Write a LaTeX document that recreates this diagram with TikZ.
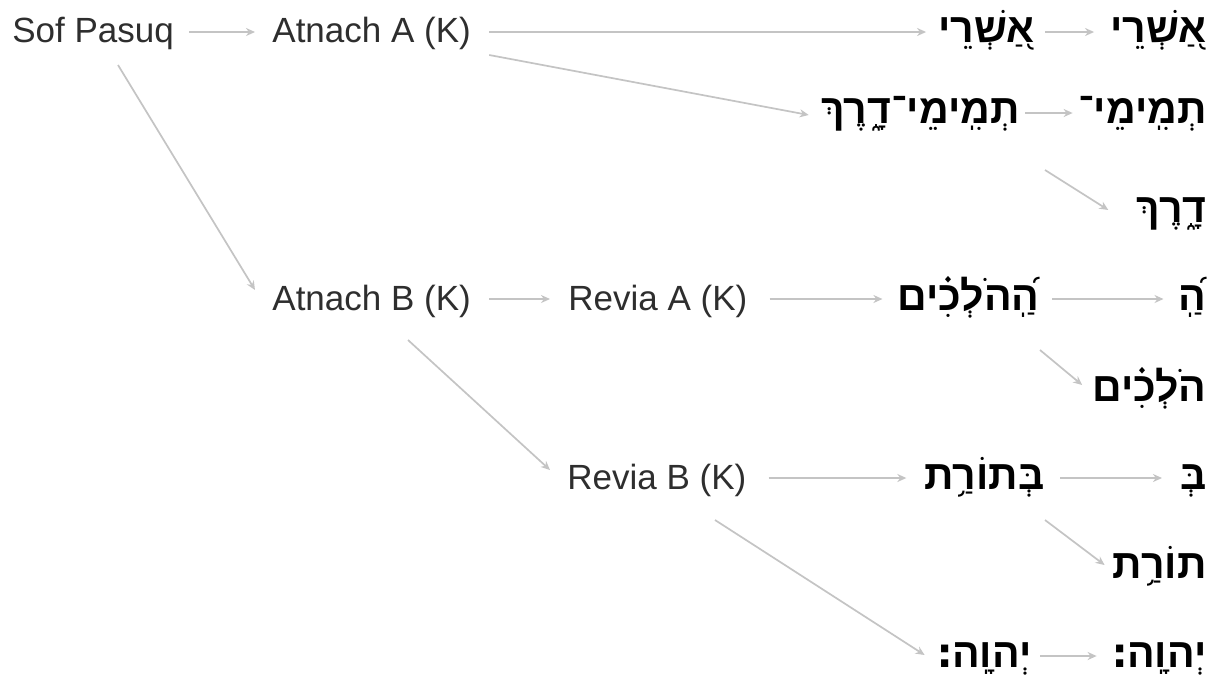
\documentclass[tikz,border=0pt]{standalone}
\usepackage{fontspec}
\setmainfont{Liberation Sans}
\newfontfamily\heb[Script=Hebrew]{Liberation Sans}
\newfontfamily\hebdv[Script=Hebrew]{DejaVu Sans}
\newcommand{\sofpas}{{\hebdv\bfseries ׃}}
\TeXXeTstate=1
\usetikzlibrary{arrows.meta}
\definecolor{conncol}{HTML}{C4C4C4}
\definecolor{txtcol}{HTML}{2E2E2E}
\begin{document}
\begin{tikzpicture}[x=0.5pt,y=-0.5pt,
  en/.style={inner sep=0pt, font=\fontsize{17.5pt}{20pt}\selectfont, text=txtcol},
  hb/.style={inner sep=0pt, font=\fontsize{20.5pt}{24pt}\selectfont\heb\bfseries, text=black},
  conn/.style={draw=conncol, line width=0.85pt, -{Stealth[length=4.5pt,width=4pt]}}]
\useasboundingbox[fill=white] (0,0) rectangle (1213,692);
% nodes
\node[en,anchor=base west] (sof)  at (12,42)  {Sof Pasuq};
\node[en,anchor=base west] (atnA) at (272,42) {Atnach A (K)};
\node[hb,anchor=base east] (ash1) at (1035,42) {\beginR אַ֭שְׁרֵי\endR};
\node[hb,anchor=base east] (ash2) at (1207,42) {\beginR אַ֭שְׁרֵי\endR};
\node[hb,anchor=base east] (tmd)  at (1020,123) {\beginR תְמִֽימֵי־דָ֑רֶךְ\endR};
\node[hb,anchor=base east] (tmm)  at (1207,123) {\beginR תְמִֽימֵי־\endR};
\node[hb,anchor=base east] (drk)  at (1207,222) {\beginR דָ֑רֶךְ\endR};
\node[en,anchor=base west] (atnB) at (272,310) {Atnach B (K)};
\node[en,anchor=base west] (revA) at (568,310) {Revia A (K)};
\node[hb,anchor=base east] (hhl)  at (1040,310) {\beginR הַֽ֝הֹלְכִ֗ים\endR};
\node[hb,anchor=base east] (ha)   at (1207,310) {\beginR הַֽ֝\endR};
\node[hb,anchor=base east] (hlk)  at (1207,401) {\beginR הֹלְכִ֗ים\endR};
\node[en,anchor=base west] (revB) at (567,489) {Revia B (K)};
\node[hb,anchor=base east] (btr)  at (1045,489) {\beginR בְּתוֹרַ֥ת\endR};
\node[hb,anchor=base east] (b)    at (1207,489) {\beginR בְּ\endR};
\node[hb,anchor=base east] (trt)  at (1207,578) {\beginR תוֹרַ֥ת\endR};
\node[hb,anchor=base east] (yh1)  at (1032,667) {\beginR יְהוָֽה\sofpas\endR};
\node[hb,anchor=base east] (yh2)  at (1207,667) {\beginR יְהוָֽה\sofpas\endR};
% connectors
\draw[conn] ([shift={(15,-10)}]sof.base east) -- ([shift={(-17,-10)}]atnA.base west);
\draw[conn] ([shift={(18,-10)}]atnA.base east) -- ([shift={(-12,-10)}]ash1.base west);
\draw[conn] ([shift={(10,-10)}]ash1.base east) -- ([shift={(-16,-10)}]ash2.base west);
\draw[conn] ([shift={(18,13)}]atnA.base east) -- ([shift={(-12,-8)}]tmd.base west);
\draw[conn] ([shift={(5,-10)}]tmd.base east) -- ([shift={(-5,-10)}]tmm.base west);
\draw[conn] ([shift={(25,47)}]tmd.base east) -- ([shift={(-28,-12)}]drk.base west);
\draw[conn] ([shift={(106,23)}]sof.base west) -- ([shift={(-17,-20)}]atnB.base west);
\draw[conn] ([shift={(18,-11)}]atnB.base east) -- ([shift={(-18,-11)}]revA.base west);
\draw[conn] ([shift={(22,-11)}]revA.base east) -- ([shift={(-15,-11)}]hhl.base west);
\draw[conn] ([shift={(12,-11)}]hhl.base east) -- ([shift={(-15,-11)}]ha.base west);
\draw[conn] ([shift={(0,40)}]hhl.base east) -- ([shift={(-10,-16)}]hlk.base west);
\draw[conn] ([shift={(136,30)}]atnB.base west) -- ([shift={(-17,-19)}]revB.base west);
\draw[conn] ([shift={(22,-11)}]revB.base east) -- ([shift={(-18,-11)}]btr.base west);
\draw[conn] ([shift={(15,-11)}]btr.base east) -- ([shift={(-18,-11)}]b.base west);
\draw[conn] ([shift={(0,31)}]btr.base east) -- ([shift={(-8,-13)}]trt.base west);
\draw[conn] ([shift={(148,31)}]revB.base west) -- ([shift={(-12,-12)}]yh1.base west);
\draw[conn] ([shift={(8,-11)}]yh1.base east) -- ([shift={(-15,-11)}]yh2.base west);
\end{tikzpicture}
\end{document}
